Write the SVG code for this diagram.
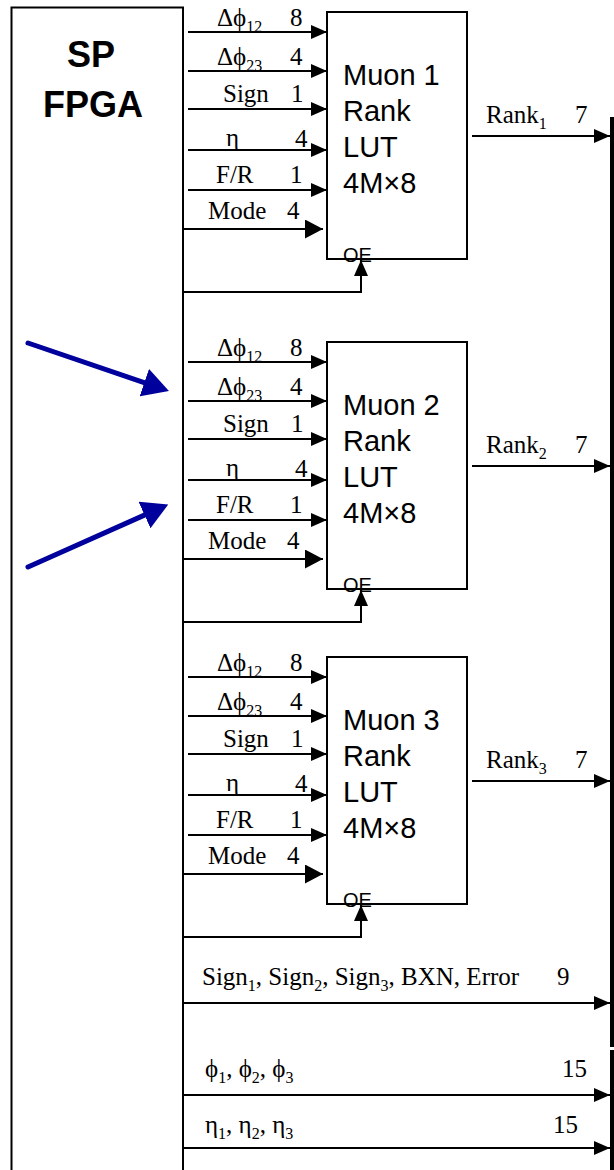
<svg xmlns="http://www.w3.org/2000/svg" width="614" height="1170" viewBox="0 0 614 1170">
  <style>
    .edge { fill: none; stroke: #000; stroke-width: 2; }
    .wire { fill: none; stroke: #000; stroke-width: 2; }
    .lab { font-family: "Liberation Serif", "Times New Roman", serif; font-size: 25px; fill: #000; }
    .sub { font-size: 16px; }
    .lut { font-family: "Liberation Sans", Arial, sans-serif; font-size: 29px; fill: #000; }
    .oe { font-family: "Liberation Sans", Arial, sans-serif; font-size: 20px; fill: #000; }
    .title { font-family: "Liberation Sans", Arial, sans-serif; font-size: 36px; font-weight: bold; fill: #000; text-anchor: middle; }
    .hint { fill: none; stroke: #00009c; stroke-width: 5; stroke-linecap: round; }
  </style>
  <defs>
    <marker id="ah" markerUnits="userSpaceOnUse" markerWidth="16" markerHeight="14" refX="16" refY="7" orient="auto">
      <path d="M0,0 L16,7 L0,14 z" fill="#000"/>
    </marker>
    <marker id="ahBig" markerUnits="userSpaceOnUse" markerWidth="18" markerHeight="19" refX="18" refY="9.5" orient="auto">
      <path d="M0,0 L18,9.5 L0,19 z" fill="#000"/>
    </marker>
    <marker id="ahBlue" markerUnits="userSpaceOnUse" markerWidth="26" markerHeight="29" refX="6" refY="14.5" orient="auto">
      <path d="M0,0 L26,14.5 L0,29 z" fill="#00009c"/>
    </marker>
  </defs>

  <rect width="614" height="1170" fill="#fff"/>

  <!-- SP FPGA block, open at the bottom -->
  <g id="sp-fpga">
    <path class="edge" d="M11.5,1170 V7.5 H183 V1170"/>
    <text class="title" x="91" y="67">SP</text>
    <text class="title" x="93" y="117">FPGA</text>
  </g>

  <!-- output bus on the right -->
  <g id="output-bus">
    <line x1="612" y1="117" x2="612" y2="1047" stroke="#000" stroke-width="4"/>
    <line x1="612" y1="1050" x2="612" y2="1170" stroke="#000" stroke-width="4"/>
  </g>

  <!-- rank lookup tables -->
  <g id="lut1">
    <rect class="edge" x="327" y="12" width="140" height="247"/>
    <text class="lut" x="343" y="85">Muon 1</text>
    <text class="lut" x="343" y="121">Rank</text>
    <text class="lut" x="343" y="157">LUT</text>
    <text class="lut" x="343" y="193">4M×8</text>
    <text class="oe" x="343" y="262">OE</text>
  </g>
  <g id="lut2" transform="translate(0,330)">
    <rect class="edge" x="327" y="12" width="140" height="247"/>
    <text class="lut" x="343" y="85">Muon 2</text>
    <text class="lut" x="343" y="121">Rank</text>
    <text class="lut" x="343" y="157">LUT</text>
    <text class="lut" x="343" y="193">4M×8</text>
    <text class="oe" x="343" y="262">OE</text>
  </g>
  <g id="lut3" transform="translate(0,645)">
    <rect class="edge" x="327" y="12" width="140" height="247"/>
    <text class="lut" x="343" y="85">Muon 3</text>
    <text class="lut" x="343" y="121">Rank</text>
    <text class="lut" x="343" y="157">LUT</text>
    <text class="lut" x="343" y="193">4M×8</text>
    <text class="oe" x="343" y="262">OE</text>
  </g>

  <!-- signal wires -->
  <g id="connectors">
    <g id="wires1">
      <line class="wire" x1="188" y1="32" x2="327" y2="32" marker-end="url(#ah)"/>
      <line class="wire" x1="188" y1="71" x2="327" y2="71" marker-end="url(#ah)"/>
      <line class="wire" x1="188" y1="109" x2="327" y2="109" marker-end="url(#ah)"/>
      <line class="wire" x1="188" y1="150" x2="327" y2="150" marker-end="url(#ah)"/>
      <line class="wire" x1="188" y1="190" x2="327" y2="190" marker-end="url(#ah)"/>
      <line class="wire" x1="183" y1="229" x2="323" y2="229" marker-end="url(#ahBig)"/>
      <path class="wire" d="M183,292 H361 V260" marker-end="url(#ah)"/>
      <line class="wire" x1="472" y1="136" x2="610" y2="136" marker-end="url(#ah)"/>
    </g>
    <g id="wires2" transform="translate(0,330)">
      <line class="wire" x1="188" y1="32" x2="327" y2="32" marker-end="url(#ah)"/>
      <line class="wire" x1="188" y1="71" x2="327" y2="71" marker-end="url(#ah)"/>
      <line class="wire" x1="188" y1="109" x2="327" y2="109" marker-end="url(#ah)"/>
      <line class="wire" x1="188" y1="150" x2="327" y2="150" marker-end="url(#ah)"/>
      <line class="wire" x1="188" y1="190" x2="327" y2="190" marker-end="url(#ah)"/>
      <line class="wire" x1="183" y1="229" x2="323" y2="229" marker-end="url(#ahBig)"/>
      <path class="wire" d="M183,292 H361 V260" marker-end="url(#ah)"/>
      <line class="wire" x1="472" y1="136" x2="610" y2="136" marker-end="url(#ah)"/>
    </g>
    <g id="wires3" transform="translate(0,645)">
      <line class="wire" x1="188" y1="32" x2="327" y2="32" marker-end="url(#ah)"/>
      <line class="wire" x1="188" y1="71" x2="327" y2="71" marker-end="url(#ah)"/>
      <line class="wire" x1="188" y1="109" x2="327" y2="109" marker-end="url(#ah)"/>
      <line class="wire" x1="188" y1="150" x2="327" y2="150" marker-end="url(#ah)"/>
      <line class="wire" x1="188" y1="190" x2="327" y2="190" marker-end="url(#ah)"/>
      <line class="wire" x1="183" y1="229" x2="323" y2="229" marker-end="url(#ahBig)"/>
      <path class="wire" d="M183,292 H361 V260" marker-end="url(#ah)"/>
      <line class="wire" x1="472" y1="136" x2="610" y2="136" marker-end="url(#ah)"/>
    </g>
    <line class="wire" x1="183" y1="1003" x2="610" y2="1003" marker-end="url(#ah)"/>
    <line class="wire" x1="183" y1="1095" x2="610" y2="1095" marker-end="url(#ah)"/>
    <line class="wire" x1="183" y1="1148" x2="610" y2="1148" marker-end="url(#ah)"/>
  </g>

  <!-- wire labels -->
  <g id="labels">
    <g id="labels1">
      <text class="lab" x="217" y="26">Δϕ<tspan class="sub" dy="6">12</tspan></text>
      <text class="lab" x="290" y="26">8</text>
      <text class="lab" x="217" y="65">Δϕ<tspan class="sub" dy="6">23</tspan></text>
      <text class="lab" x="290" y="65">4</text>
      <text class="lab" x="223" y="102">Sign</text>
      <text class="lab" x="291" y="102">1</text>
      <text class="lab" x="226" y="146">η</text>
      <text class="lab" x="295" y="147">4</text>
      <text class="lab" x="216" y="183">F/R</text>
      <text class="lab" x="290" y="183">1</text>
      <text class="lab" x="208" y="219">Mode</text>
      <text class="lab" x="287" y="219">4</text>
      <text class="lab" x="486" y="123">Rank<tspan class="sub" dy="6">1</tspan></text>
      <text class="lab" x="575" y="123">7</text>
    </g>
    <g id="labels2" transform="translate(0,330)">
      <text class="lab" x="217" y="26">Δϕ<tspan class="sub" dy="6">12</tspan></text>
      <text class="lab" x="290" y="26">8</text>
      <text class="lab" x="217" y="65">Δϕ<tspan class="sub" dy="6">23</tspan></text>
      <text class="lab" x="290" y="65">4</text>
      <text class="lab" x="223" y="102">Sign</text>
      <text class="lab" x="291" y="102">1</text>
      <text class="lab" x="226" y="146">η</text>
      <text class="lab" x="295" y="147">4</text>
      <text class="lab" x="216" y="183">F/R</text>
      <text class="lab" x="290" y="183">1</text>
      <text class="lab" x="208" y="219">Mode</text>
      <text class="lab" x="287" y="219">4</text>
      <text class="lab" x="486" y="123">Rank<tspan class="sub" dy="6">2</tspan></text>
      <text class="lab" x="575" y="123">7</text>
    </g>
    <g id="labels3" transform="translate(0,645)">
      <text class="lab" x="217" y="26">Δϕ<tspan class="sub" dy="6">12</tspan></text>
      <text class="lab" x="290" y="26">8</text>
      <text class="lab" x="217" y="65">Δϕ<tspan class="sub" dy="6">23</tspan></text>
      <text class="lab" x="290" y="65">4</text>
      <text class="lab" x="223" y="102">Sign</text>
      <text class="lab" x="291" y="102">1</text>
      <text class="lab" x="226" y="146">η</text>
      <text class="lab" x="295" y="147">4</text>
      <text class="lab" x="216" y="183">F/R</text>
      <text class="lab" x="290" y="183">1</text>
      <text class="lab" x="208" y="219">Mode</text>
      <text class="lab" x="287" y="219">4</text>
      <text class="lab" x="486" y="123">Rank<tspan class="sub" dy="6">3</tspan></text>
      <text class="lab" x="575" y="123">7</text>
    </g>
    <text class="lab" x="202" y="985">Sign<tspan class="sub" dy="6">1</tspan><tspan dy="-6">, Sign</tspan><tspan class="sub" dy="6">2</tspan><tspan dy="-6">, Sign</tspan><tspan class="sub" dy="6">3</tspan><tspan dy="-6">, BXN, Error</tspan></text>
    <text class="lab" x="557" y="985">9</text>
    <text class="lab" x="205" y="1077">ϕ<tspan class="sub" dy="6">1</tspan><tspan dy="-6">, ϕ</tspan><tspan class="sub" dy="6">2</tspan><tspan dy="-6">, ϕ</tspan><tspan class="sub" dy="6">3</tspan></text>
    <text class="lab" x="562" y="1077">15</text>
    <text class="lab" x="205" y="1133">η<tspan class="sub" dy="6">1</tspan><tspan dy="-6">, η</tspan><tspan class="sub" dy="6">2</tspan><tspan dy="-6">, η</tspan><tspan class="sub" dy="6">3</tspan></text>
    <text class="lab" x="553" y="1133">15</text>
  </g>

  <!-- blue pointer arrows -->
  <g id="pointers">
    <line class="hint" x1="28" y1="343" x2="150" y2="384.6" marker-end="url(#ahBlue)"/>
    <line class="hint" x1="28" y1="567" x2="150" y2="512.6" marker-end="url(#ahBlue)"/>
  </g>
</svg>
